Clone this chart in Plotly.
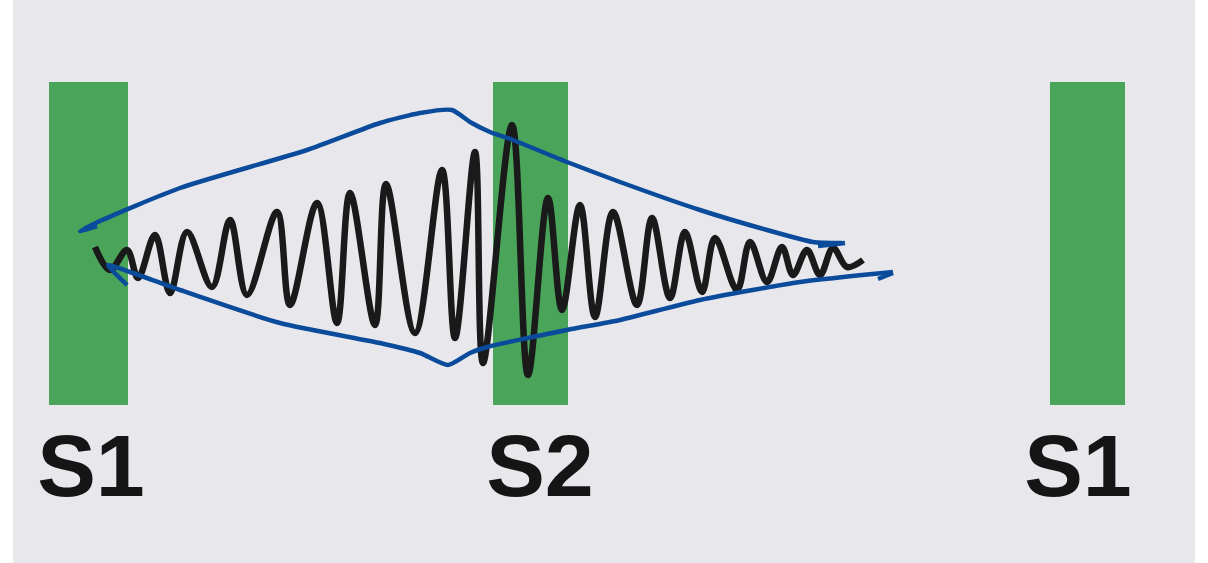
import plotly.graph_objects as go

# heart sound phases (green blocks) and their labels
phase_labels = ['S1', 'S2', 'S1']
phase_t = [88.5, 530.5, 1087.5]
phase_width = [79, 75, 75]
phase_top = [176, 176, 176]
phase_bottom = [-147, -147, -147]
label_t = [91, 540, 1078]
label_amp = [-216, -216, -216]

wave_t = [95, 110, 127, 138, 155, 170, 187, 212, 230, 247, 277, 290, 317, 337,
          350, 375, 386, 415, 442, 455, 475, 483, 512, 528, 548, 562, 580, 595,
          613, 637, 652, 670, 685, 702, 715, 737, 750, 767, 782, 793, 807, 820,
          833, 847, 863]
wave_amp = [11, -12, 8, -20, 23, -35, 26, -29, 38, -37, 46, -47, 55, -65,
            65, -67, 74, -75, 88, -80, 106, -105, 133, -117, 60, -52, 53, -59,
            46, -47, 40, -40, 26, -34, 20, -32, 16, -24, 11, -17, 8, -17,
            10, -9, -2]

# hand drawn envelope (blue)
upper_t = [97, 80, 100, 180, 307, 380, 420, 452, 470, 490, 513, 567, 620,
           700, 767, 813, 842]
upper_amp = [32, 27, 37, 70, 108, 135, 145, 148, 136, 126, 118, 96, 76,
             48, 28, 16, 15]
upper_tip_t = [818, 845]
upper_tip_amp = [12, 15]
lower_t = [127, 108, 130, 180, 280, 380, 420, 448, 470, 487, 567, 620, 700,
           800, 893]
lower_amp = [-27, -7, -14, -32, -65, -85, -95, -107, -95, -89, -72, -62, -42,
             -24, -14]
lower_tip_t = [878, 893]
lower_tip_amp = [-21, -15]

GREEN = '#4aa55a'
BLUE = '#0b4b9b'
INK = '#1a1a1a'

fig = go.Figure()

fig.add_trace(go.Bar(
    x=phase_t,
    y=[t - b for t, b in zip(phase_top, phase_bottom)],
    base=phase_bottom,
    width=phase_width,
    marker=dict(color=GREEN, line=dict(width=0)),
    hoverinfo='skip'
))

fig.add_trace(go.Scatter(
    x=wave_t, y=wave_amp,
    mode='lines',
    line=dict(color=INK, width=6.5, shape='spline', smoothing=1.0),
    hoverinfo='skip'
))

for xs, ys in [(upper_t, upper_amp), (upper_tip_t, upper_tip_amp),
               (lower_t, lower_amp), (lower_tip_t, lower_tip_amp)]:
    fig.add_trace(go.Scatter(
        x=xs, y=ys,
        mode='lines',
        line=dict(color=BLUE, width=4.5, shape='spline', smoothing=0.6),
        hoverinfo='skip'
    ))

fig.add_trace(go.Scatter(
    x=label_t, y=label_amp,
    mode='text',
    text=['<b>%s</b>' % s for s in phase_labels],
    textposition='middle center',
    textfont=dict(family='Liberation Sans Narrow, Liberation Sans, Arial',
                  size=88, color='#151515'),
    hoverinfo='skip'
))

fig.update_layout(
    width=1208, height=563,
    margin=dict(l=13, r=13, t=0, b=0),
    paper_bgcolor='white',
    plot_bgcolor='#e8e8ec',
    showlegend=False,
    bargap=0,
    xaxis=dict(range=[13, 1195], visible=False, fixedrange=True),
    yaxis=dict(range=[-305, 258], visible=False, fixedrange=True),
)

# drop the browser's default 8px body margin so the figure sits at 0,0
fig.write_html("out.html", config={'displayModeBar': False},
               post_script="document.body.style.margin='0';")
